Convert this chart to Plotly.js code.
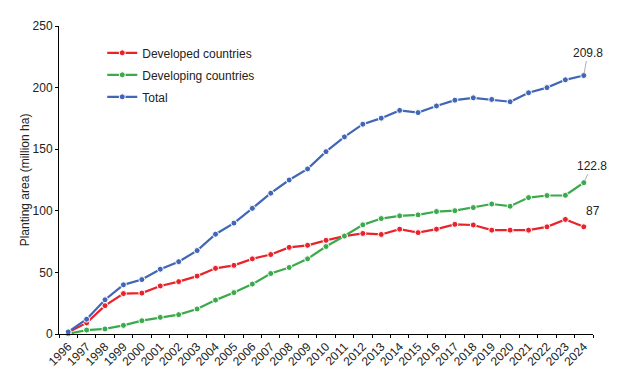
<!DOCTYPE html>
<html>
<head>
<meta charset="utf-8">
<script src="https://cdn.plot.ly/plotly-3.0.1.min.js"></script>
<style>html,body{margin:0;padding:0;background:#fff;}#chart{width:641px;height:376px;}</style>
</head>
<body>
<div id="chart"></div>
<script>
const years = ["1996","1997","1998","1999","2000","2001","2002","2003","2004","2005","2006","2007","2008","2009","2010","2011","2012","2013","2014","2015","2016","2017","2018","2019","2020","2021","2022","2023","2024"];
const developed = [1.5, 9, 23, 32.8, 33.2, 39, 42.5, 47, 53.3, 55.7, 61, 64.5, 70.3, 72, 76, 79.5, 81.6, 80.8, 85.1, 82.3, 85.1, 89, 88.5, 84.3, 84.3, 84.3, 87, 93, 87];
const developing = [0.2, 3.2, 4.1, 7, 10.8, 13.5, 15.7, 20.3, 27.5, 33.6, 40.5, 49.1, 54, 61, 71, 79.5, 88.6, 93.7, 95.9, 96.7, 99.4, 100.1, 102.6, 105.5, 103.7, 110.7, 112.4, 112.6, 122.8];
const total = [1.7, 12, 27.8, 39.9, 44.2, 52.6, 58.7, 67.7, 81.0, 90.0, 102.0, 114.3, 125.0, 134.0, 148.0, 160.0, 170.3, 175.2, 181.5, 179.7, 185.1, 189.8, 191.7, 190.4, 188.5, 195.8, 200.0, 206.3, 209.8];
const seriesNames = ["Developed countries", "Developing countries", "Total"];
const endLabels = ["87", "122.8", "209.8"];

const colors = ["#e8232b", "#3aaa4c", "#4166b5"];
const allSeries = [developed, developing, total];

const traces = allSeries.map((vals, i) => ({
  type: "scatter",
  mode: "lines+markers",
  x: years,
  y: vals,
  name: seriesNames[i],
  legendgroup: "g" + i,
  line: {color: colors[i], width: 2.2},
  marker: {color: colors[i], size: 6, line: {color: "#ffffff", width: 1}},
  cliponaxis: false
}));

const last = years.length - 1;
const annotations = [
  {x: last, y: total[last], text: endLabels[2], showarrow: true, arrowhead: 0, arrowwidth: 0.8, arrowcolor: "#999999", ax: 4, ay: -23, standoff: 2},
  {x: last, y: developing[last], text: endLabels[1], showarrow: true, arrowhead: 0, arrowwidth: 0.8, arrowcolor: "#999999", ax: 8, ay: -17, standoff: 2},
  {x: last, y: developed[last], text: endLabels[0], showarrow: false, xshift: 9, yshift: 16}
].map(a => Object.assign({xref: "x", yref: "y", font: {size: 12, color: "#222"}}, a));

const layout = {
  width: 641,
  height: 376,
  margin: {l: 59, r: 48, t: 26, b: 42},
  paper_bgcolor: "#ffffff",
  plot_bgcolor: "#ffffff",
  font: {family: "Liberation Sans, Arial, sans-serif", size: 12, color: "#222"},
  showlegend: true,
  legend: {x: 0.081, y: 0.96, xanchor: "left", yanchor: "top", traceorder: "grouped", tracegroupgap: 3, font: {size: 12}, bgcolor: "rgba(0,0,0,0)"},
  xaxis: {
    type: "category",
    tickson: "boundaries",
    ticks: "outside",
    ticklen: 3,
    tickcolor: "#000",
    tickangle: -45,
    showline: true,
    linecolor: "#000",
    linewidth: 1,
    showgrid: false,
    zeroline: false,
    tickfont: {size: 12},
    range: [-0.5, years.length - 0.5]
  },
  yaxis: {
    range: [0, 250],
    tickvals: [0, 50, 100, 150, 200, 250],
    ticks: "outside",
    ticklen: 3,
    tickcolor: "#000",
    showline: true,
    linecolor: "#000",
    linewidth: 1,
    showgrid: false,
    zeroline: false,
    tickfont: {size: 12},
    title: {text: "Planting area (million ha)", font: {size: 12}, standoff: 0}
  },
  annotations: annotations
};

Plotly.newPlot("chart", traces, layout, {displayModeBar: false, staticPlot: true});
</script>
</body>
</html>
